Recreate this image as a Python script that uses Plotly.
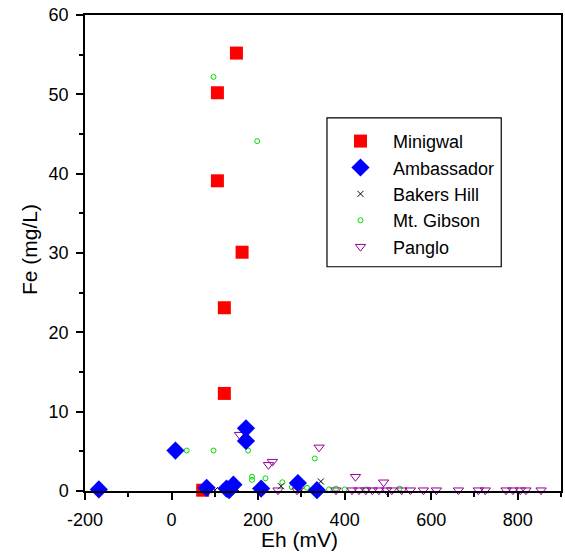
import plotly.graph_objects as go

# ---- data (Eh in mV, Fe in mg/L) ----
minigwal_eh = [150, 106, 106, 163, 122, 122, 72]
minigwal_fe = [55.2, 50.2, 39.1, 30.1, 23.1, 12.3, 0.1]

ambassador_eh = [-168, 9, 81, 127, 143, 133, 207, 172, 172, 292, 336]
ambassador_fe = [0.2, 5.1, 0.4, 0.3, 0.8, 0.1, 0.3, 7.9, 6.3, 1.0, 0.1]

bakers_eh = [100, 150, 253, 300, 345]
bakers_fe = [0.1, 0.3, 0.6, 0.1, 1.2]

gibson_eh = [97, 198, 35, 97, 177, 186, 186, 217, 256, 331, 278, 313, 322, 364, 380, 400, 450, 527]
gibson_fe = [52.2, 44.1, 5.1, 5.1, 5.1, 1.8, 1.4, 1.6, 1.1, 4.1, 0.5, 0.4, 0.1, 0.2, 0.3, 0.2, 0.2, 0.3]

panglo_eh = [341, 224, 233, 425, 490, 157, 246, 290, 380, 417, 433, 449, 464, 479, 497, 509,
             532, 552, 582, 612, 663, 709, 725, 773, 789, 806, 819, 854]
panglo_fe = [5.5, 3.3, 3.7, 1.8, 1.1, 7.1, 0.1, 0.1, 0.1, 0.1, 0.1, 0.1, 0.1, 0.1, 0.1, 0.1,
             0.1, 0.1, 0.1, 0.1, 0.1, 0.1, 0.1, 0.1, 0.1, 0.1, 0.1, 0.1]

x_ticks = [-200, 0, 200, 400, 600, 800]
y_ticks = [0, 10, 20, 30, 40, 50, 60]

FONT = "Arial, Liberation Sans, sans-serif"

fig = go.Figure()

fig.add_trace(go.Scatter(
    x=minigwal_eh, y=minigwal_fe, mode="markers", name="Minigwal", legendrank=1,
    marker=dict(symbol="square", size=13, color="#ff0000", line=dict(width=0)),
    cliponaxis=False))
fig.add_trace(go.Scatter(
    x=bakers_eh, y=bakers_fe, mode="markers", name="Bakers Hill", legendrank=3,
    marker=dict(symbol="x-thin-open", size=6, color="black", line=dict(width=1, color="black")),
    cliponaxis=False))
fig.add_trace(go.Scatter(
    x=gibson_eh, y=gibson_fe, mode="markers", name="Mt. Gibson", legendrank=4,
    marker=dict(symbol="circle-open", size=5, color="#00dd00", line=dict(width=1, color="#00dd00")),
    cliponaxis=False))
fig.add_trace(go.Scatter(
    x=panglo_eh, y=panglo_fe, mode="markers", name="Panglo", legendrank=5,
    marker=dict(symbol="triangle-down-open", size=9, color="#990099", line=dict(width=1, color="#990099")),
    cliponaxis=False))
fig.add_trace(go.Scatter(
    x=ambassador_eh, y=ambassador_fe, mode="markers", name="Ambassador", legendrank=2,
    marker=dict(symbol="diamond", size=14, color="#0000ff", line=dict(width=0)),
    cliponaxis=False))

axis_common = dict(
    showgrid=False, zeroline=False, showline=True, linecolor="black", linewidth=1.5,
    mirror=True, ticks="outside", ticklen=7, tickwidth=1.5, tickcolor="black",
    tickfont=dict(family=FONT, size=18, color="black"),
)

fig.update_xaxes(
    range=[-200, 900], tickvals=x_ticks, ticktext=[str(v) for v in x_ticks],
    minor=dict(ticks="outside", ticklen=4, tickwidth=1.5, tickcolor="black", dtick=100),
    ticklabelstandoff=5,
    **axis_common)
fig.update_yaxes(
    range=[0, 60], tickvals=y_ticks, ticktext=[str(v) for v in y_ticks],
    minor=dict(ticks="outside", ticklen=4, tickwidth=1.5, tickcolor="black", dtick=5),
    ticklabelstandoff=4,
    **axis_common)

# axis titles placed as annotations
fig.add_annotation(text="Eh (mV)", xref="paper", yref="paper", x=(300 - 85) / 478, y=-(540 - 491.5) / 476.5,
                   xanchor="center", yanchor="middle", showarrow=False,
                   font=dict(family=FONT, size=21, color="black"))
fig.add_annotation(text="Fe (mg/L)", xref="paper", yref="paper", x=-(85 - 30) / 478, y=(491.5 - 250) / 476.5,
                   xanchor="center", yanchor="middle", showarrow=False, textangle=-90,
                   font=dict(family=FONT, size=21, color="black"))

# legend frame
fig.add_shape(type="rect", xref="paper", yref="paper",
              x0=(328 - 85) / 478, x1=(503 - 85) / 478,
              y0=(491.5 - 267) / 476.5, y1=(491.5 - 118) / 476.5,
              line=dict(color="black", width=1.2), fillcolor="rgba(0,0,0,0)", layer="above")

fig.update_layout(
    width=565, height=554,
    margin=dict(l=85, r=2, t=15, b=63),
    paper_bgcolor="white", plot_bgcolor="white",
    showlegend=True,
    legend=dict(
        x=(329 - 85) / 478, y=(491.5 - 123) / 476.5, xanchor="left", yanchor="top",
        borderwidth=0, bgcolor="rgba(0,0,0,0)",
        font=dict(family=FONT, size=18, color="black"),
        itemsizing="trace", itemwidth=55, tracegroupgap=0,
    ),
)

fig.write_html("out.html")
